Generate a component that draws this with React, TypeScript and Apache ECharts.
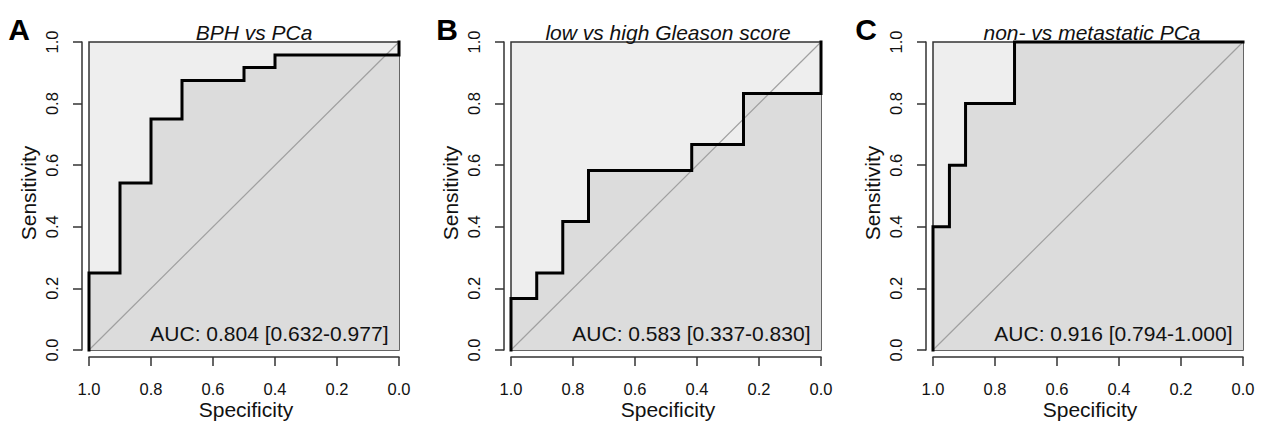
import React, { useEffect, useRef } from "react";
import * as echarts from "echarts";

// Panel A: BPH vs PCa
const titleA = "BPH vs PCa";
const specA = [1, 1, 0.9, 0.9, 0.8, 0.8, 0.7, 0.7, 0.5, 0.5, 0.4, 0.4, 0, 0];
const sensA = [0, 0.25, 0.25, 0.542, 0.542, 0.75, 0.75, 0.875, 0.875, 0.917, 0.917, 0.958, 0.958, 1];
const aucA = "AUC: 0.804 [0.632-0.977]";

// Panel B: low vs high Gleason score
const titleB = "low vs high Gleason score";
const specB = [1, 1, 0.917, 0.917, 0.833, 0.833, 0.75, 0.75, 0.417, 0.417, 0.25, 0.25, 0, 0];
const sensB = [0, 0.167, 0.167, 0.25, 0.25, 0.417, 0.417, 0.583, 0.583, 0.667, 0.667, 0.833, 0.833, 1];
const aucB = "AUC: 0.583 [0.337-0.830]";

// Panel C: non- vs metastatic PCa
const titleC = "non- vs metastatic PCa";
const specC = [1, 1, 0.947, 0.947, 0.895, 0.895, 0.737, 0.737, 0];
const sensC = [0, 0.4, 0.4, 0.6, 0.6, 0.8, 0.8, 1, 1];
const aucC = "AUC: 0.916 [0.794-1.000]";

const letters = ["A", "B", "C"];
const xName = "Specificity";
const yName = "Sensitivity";

const FONT = "'Liberation Sans', Arial, Helvetica, sans-serif";

export default function App() {
  const ref = useRef<HTMLDivElement>(null);
  useEffect(() => {
    if (!ref.current) return;
    const chart = echarts.init(ref.current, undefined, { renderer: "svg" });
    const panels = [
      { title: titleA, spec: specA, sens: sensA, auc: aucA, left: 89, width: 310, titleX: 254, letterX: 19 },
      { title: titleB, spec: specB, sens: sensB, auc: aucB, left: 511, width: 310, titleX: 668, letterX: 447 },
      { title: titleC, spec: specC, sens: sensC, auc: aucC, left: 933, width: 310, titleX: 1092, letterX: 866 },
    ];
    const top = 42;
    const height = 308;
    const grid: any[] = [];
    const xAxis: any[] = [];
    const yAxis: any[] = [];
    const series: any[] = [];
    const graphic: any[] = [];
    panels.forEach((p, i) => {
      grid.push({
        left: p.left,
        top,
        width: p.width,
        height,
        show: true,
        backgroundColor: "#eeeeee",
        borderColor: "#333333",
        borderWidth: 1.5,
        containLabel: false,
        outerBoundsMode: "none",
      });
      xAxis.push({
        type: "value",
        gridIndex: i,
        min: 0,
        max: 1,
        interval: 0.2,
        inverse: true,
        offset: 7,
        axisLine: { show: true, onZero: false, lineStyle: { color: "#333", width: 1.5 } },
        axisTick: { show: true, length: 9, lineStyle: { color: "#333", width: 1.5 } },
        axisLabel: {
          fontFamily: FONT,
          fontSize: 16.5,
          color: "#111",
          margin: 23,
          formatter: (v: number) => v.toFixed(1),
        },
        axisPointer: { show: false },
        splitLine: { show: false },
      });
      yAxis.push({
        type: "value",
        gridIndex: i,
        min: 0,
        max: 1,
        interval: 0.2,
        offset: 7,
        axisLine: { show: true, onZero: false, lineStyle: { color: "#333", width: 1.5 } },
        axisTick: { show: true, length: 9, lineStyle: { color: "#333", width: 1.5 } },
        axisLabel: {
          fontFamily: FONT,
          fontSize: 16.5,
          color: "#111",
          margin: 22,
          rotate: 90,
          formatter: (v: number) => v.toFixed(1),
        },
        splitLine: { show: false },
      });
      const pts = p.spec.map((s, k) => [s, p.sens[k]]);
      series.push({
        type: "line",
        xAxisIndex: i,
        yAxisIndex: i,
        data: pts,
        symbol: "none",
        lineStyle: { width: 0, opacity: 0 },
        areaStyle: { color: "#dcdcdc", opacity: 1 },
        z: 1,
        silent: true,
      });
      series.push({
        type: "line",
        xAxisIndex: i,
        yAxisIndex: i,
        data: [
          [1, 0],
          [0, 1],
        ],
        symbol: "none",
        lineStyle: { color: "#a0a0a0", width: 1.2 },
        z: 2,
        silent: true,
      });
      series.push({
        type: "line",
        xAxisIndex: i,
        yAxisIndex: i,
        data: pts,
        symbol: "none",
        clip: false,
        lineStyle: { color: "#000", width: 3, join: "miter", cap: "square" },
        z: 3,
        silent: true,
      });
      graphic.push({
        type: "text",
        x: p.titleX,
        y: 32,
        style: {
          text: p.title,
          font: `italic 21px ${FONT}`,
          fill: "#111",
          align: "center",
          verticalAlign: "middle",
        },
      });
      graphic.push({
        type: "text",
        x: p.letterX,
        y: 29,
        style: {
          text: letters[i],
          font: `bold 30px ${FONT}`,
          fill: "#000",
          align: "center",
          verticalAlign: "middle",
        },
      });
      graphic.push({
        type: "text",
        x: p.left + p.width - 10.5,
        y: 333,
        z: 10,
        style: {
          text: p.auc,
          font: `21px ${FONT}`,
          fill: "#111",
          align: "right",
          verticalAlign: "middle",
        },
      });
      graphic.push({
        type: "text",
        x: p.left + p.width / 2 + 2,
        y: 409,
        style: {
          text: xName,
          font: `21px ${FONT}`,
          fill: "#111",
          align: "center",
          verticalAlign: "middle",
        },
      });
      graphic.push({
        type: "text",
        x: p.left - 61,
        y: top + height / 2 - 3,
        rotation: Math.PI / 2,
        style: {
          text: yName,
          font: `21px ${FONT}`,
          fill: "#111",
          align: "center",
          verticalAlign: "middle",
        },
      });
    });
    chart.setOption({
      animation: false,
      backgroundColor: "#ffffff",
      grid,
      xAxis,
      yAxis,
      series,
      graphic,
    });
    return () => chart.dispose();
  }, []);
  return (
    <div
      ref={ref}
      style={{ position: "fixed", left: 0, top: 0, width: 1261, height: 421 }}
    />
  );
}
